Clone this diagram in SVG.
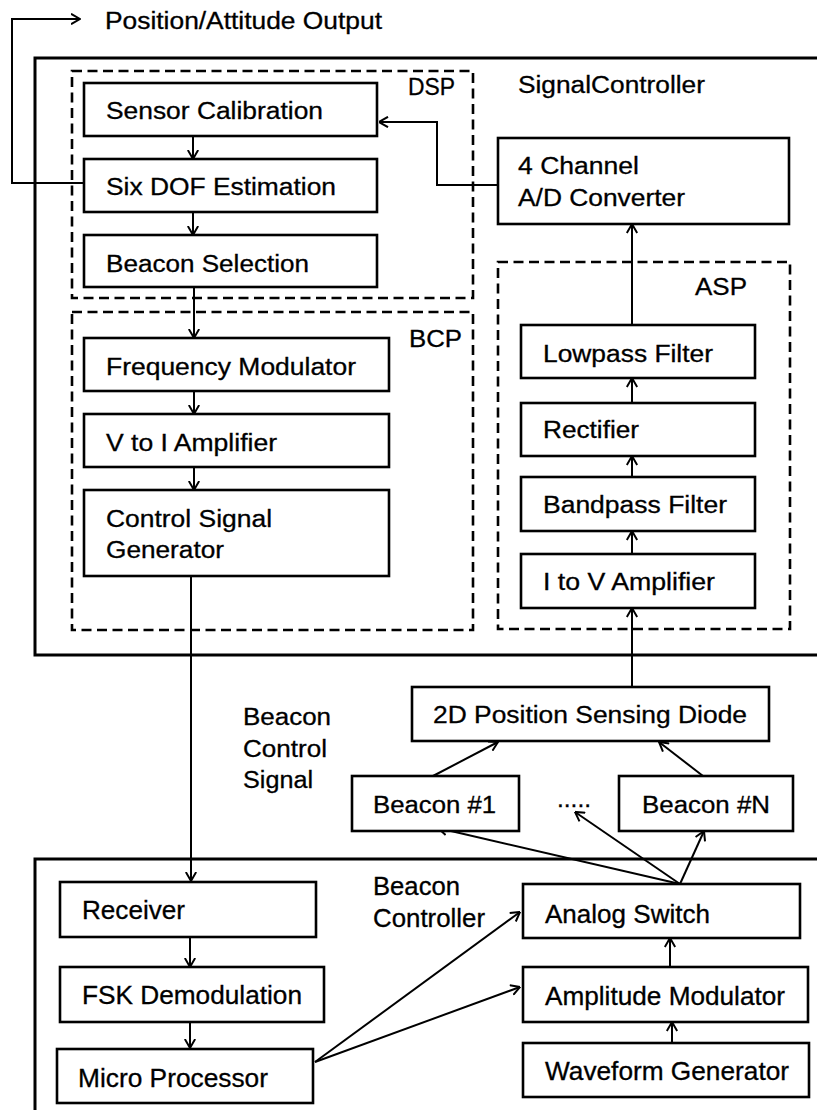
<svg xmlns="http://www.w3.org/2000/svg" width="817" height="1110" viewBox="0 0 817 1110">
<style>
text{font-family:"Liberation Sans",Arial,sans-serif;font-size:23.5px;fill:#000;stroke:#000;stroke-width:0.3}
text.b{font-size:25px}
.box{fill:#fff;stroke:#000;stroke-width:2.6}
.outer{fill:none;stroke:#000;stroke-width:3}
.dash{fill:none;stroke:#000;stroke-width:2.6;stroke-dasharray:10 5.5}
.c{fill:none;stroke:#000;stroke-width:2;marker-end:url(#ah)}
</style>
<defs>
<marker id="ah" viewBox="0 0 10 12" refX="9.5" refY="6" markerWidth="10" markerHeight="12" markerUnits="userSpaceOnUse" orient="auto">
<path d="M0.5,0.8 L9.5,6 L0.5,11.2" fill="none" stroke="#000" stroke-width="2"/>
</marker>
</defs>
<rect width="817" height="1110" fill="#fff"/>

<g id="signal-controller">
<path class="outer" d="M825 58 H35 V655 H825"/>
<text x="518" y="93" textLength="187" lengthAdjust="spacingAndGlyphs">SignalController</text>
</g>
<g id="dsp">
<rect class="dash" x="72" y="71" width="401" height="227"/>
<text x="408" y="95" textLength="47" lengthAdjust="spacingAndGlyphs">DSP</text>
</g>
<g id="bcp">
<rect class="dash" x="72" y="312" width="401" height="318"/>
<text x="409" y="347" textLength="53" lengthAdjust="spacingAndGlyphs">BCP</text>
</g>
<g id="asp">
<rect class="dash" x="498" y="262" width="292" height="367"/>
<text x="695" y="295" textLength="52" lengthAdjust="spacingAndGlyphs">ASP</text>
</g>
<g id="beacon-controller">
<path class="outer" d="M825 859 H35 V1115"/>
<text class="b" x="373" y="895" textLength="87" lengthAdjust="spacingAndGlyphs">Beacon</text>
<text class="b" x="373" y="927" textLength="112" lengthAdjust="spacingAndGlyphs">Controller</text>
</g>

<g id="connectors">
<path class="c" d="M84 183 H12 V19 H80"/>
<path class="c" d="M498 185 H437 V122 H379"/>
<path class="c" d="M193 136 V159"/>
<path class="c" d="M193 212 V235"/>
<path class="c" d="M194 287 V338"/>
<path class="c" d="M194 391 V414"/>
<path class="c" d="M194 467 V490"/>
<path class="c" d="M191 576 V881"/>
<path class="c" d="M190 937 V967"/>
<path class="c" d="M190 1022 V1048"/>
<path class="c" d="M315 1062 L520 912"/>
<path class="c" d="M315 1062 L520 987"/>
<path class="c" d="M672 1043 V1022"/>
<path class="c" d="M670 967 V938"/>
<path class="c" d="M680 884 L438 828"/>
<path class="c" d="M680 884 L575 812"/>
<path class="c" d="M680 884 L704 831"/>
<path class="c" d="M433 776 L498 742"/>
<path class="c" d="M703 776 L659 742"/>
<path class="c" d="M632 687 V608"/>
<path class="c" d="M632 554 V531"/>
<path class="c" d="M632 477 V456"/>
<path class="c" d="M632 403 V378"/>
<path class="c" d="M632 325 V224"/>
</g>

<g id="position-output"><text x="105" y="29" textLength="277" lengthAdjust="spacingAndGlyphs">Position/Attitude Output</text></g>

<g id="sensor-calibration"><rect class="box" x="84" y="83" width="293" height="53"/><text x="106" y="119" textLength="217" lengthAdjust="spacingAndGlyphs">Sensor Calibration</text></g>
<g id="six-dof"><rect class="box" x="84" y="159" width="293" height="53"/><text x="106" y="195" textLength="230" lengthAdjust="spacingAndGlyphs">Six DOF Estimation</text></g>
<g id="beacon-selection"><rect class="box" x="84" y="235" width="293" height="52"/><text x="106" y="272" textLength="203" lengthAdjust="spacingAndGlyphs">Beacon Selection</text></g>
<g id="ad-converter"><rect class="box" x="498" y="138" width="291" height="86"/><text x="518" y="174" textLength="121" lengthAdjust="spacingAndGlyphs">4 Channel</text><text x="518" y="206" textLength="167" lengthAdjust="spacingAndGlyphs">A/D Converter</text></g>

<g id="frequency-modulator"><rect class="box" x="84" y="338" width="305" height="53"/><text x="106" y="375" textLength="250" lengthAdjust="spacingAndGlyphs">Frequency Modulator</text></g>
<g id="v-to-i"><rect class="box" x="84" y="414" width="305" height="53"/><text x="106" y="451" textLength="171" lengthAdjust="spacingAndGlyphs">V to I Amplifier</text></g>
<g id="control-signal-generator"><rect class="box" x="84" y="490" width="305" height="86"/><text x="106" y="527" textLength="166" lengthAdjust="spacingAndGlyphs">Control Signal</text><text x="106" y="558" textLength="118" lengthAdjust="spacingAndGlyphs">Generator</text></g>

<g id="lowpass"><rect class="box" x="521" y="325" width="234" height="53"/><text x="543" y="362" textLength="170" lengthAdjust="spacingAndGlyphs">Lowpass Filter</text></g>
<g id="rectifier"><rect class="box" x="521" y="403" width="234" height="53"/><text x="543" y="438" textLength="96" lengthAdjust="spacingAndGlyphs">Rectifier</text></g>
<g id="bandpass"><rect class="box" x="521" y="477" width="234" height="54"/><text x="543" y="513" textLength="184" lengthAdjust="spacingAndGlyphs">Bandpass Filter</text></g>
<g id="i-to-v"><rect class="box" x="521" y="554" width="234" height="54"/><text x="543" y="590" textLength="172" lengthAdjust="spacingAndGlyphs">I to V Amplifier</text></g>

<g id="psd"><rect class="box" x="412" y="687" width="357" height="54"/><text x="433" y="723" textLength="314" lengthAdjust="spacingAndGlyphs">2D Position Sensing Diode</text></g>
<g id="beacon-control-signal-label"><text x="243" y="725" textLength="88" lengthAdjust="spacingAndGlyphs">Beacon</text><text x="243" y="757" textLength="84" lengthAdjust="spacingAndGlyphs">Control</text><text x="243" y="788" textLength="70" lengthAdjust="spacingAndGlyphs">Signal</text></g>
<g id="beacon-1"><rect class="box" x="352" y="776" width="167" height="55"/><text x="373" y="813" textLength="123" lengthAdjust="spacingAndGlyphs">Beacon #1</text></g>
<g id="dots"><text x="557" y="807" textLength="34" lengthAdjust="spacingAndGlyphs">.....</text></g>
<g id="beacon-n"><rect class="box" x="619" y="776" width="174" height="55"/><text x="642" y="813" textLength="128" lengthAdjust="spacingAndGlyphs">Beacon #N</text></g>

<g id="receiver"><rect class="box" x="60" y="882" width="256" height="55"/><text class="b" x="82" y="919" textLength="103" lengthAdjust="spacingAndGlyphs">Receiver</text></g>
<g id="fsk"><rect class="box" x="60" y="967" width="264" height="55"/><text class="b" x="82" y="1004" textLength="220" lengthAdjust="spacingAndGlyphs">FSK Demodulation</text></g>
<g id="micro-processor"><rect class="box" x="57" y="1049" width="256" height="54"/><text class="b" x="78" y="1087" textLength="190" lengthAdjust="spacingAndGlyphs">Micro Processor</text></g>
<g id="analog-switch"><rect class="box" x="523" y="884" width="277" height="54"/><text class="b" x="545" y="923" textLength="165" lengthAdjust="spacingAndGlyphs">Analog Switch</text></g>
<g id="amplitude-modulator"><rect class="box" x="523" y="967" width="285" height="55"/><text class="b" x="545" y="1005" textLength="240" lengthAdjust="spacingAndGlyphs">Amplitude Modulator</text></g>
<g id="waveform-generator"><rect class="box" x="523" y="1043" width="286" height="54"/><text class="b" x="545" y="1080" textLength="244" lengthAdjust="spacingAndGlyphs">Waveform Generator</text></g>
</svg>
